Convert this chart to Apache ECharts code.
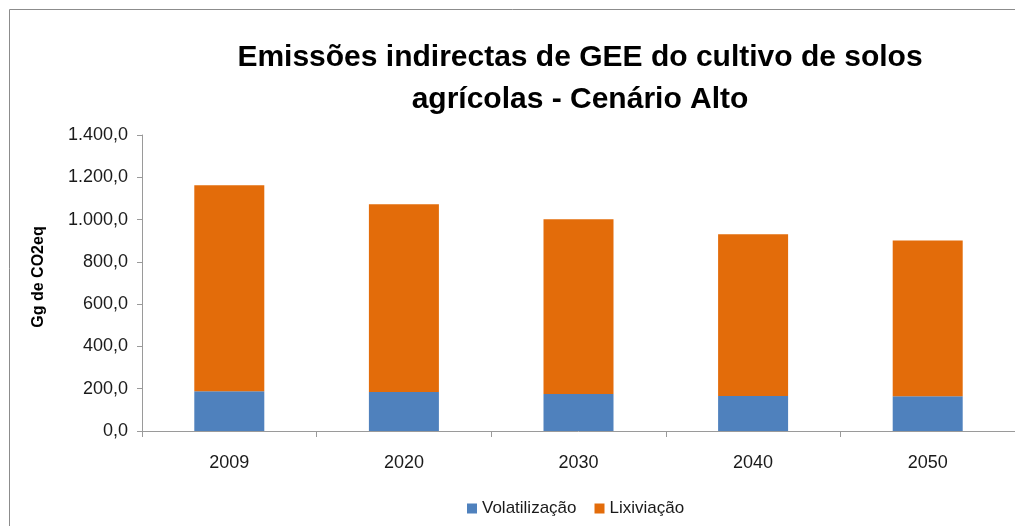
<!DOCTYPE html>
<html>
<head>
<meta charset="utf-8">
<script src="https://cdn.jsdelivr.net/npm/echarts@6/dist/echarts.min.js"></script>
<style>
  html, body { margin: 0; padding: 0; background: #fff; }
  #chart { width: 1015px; height: 526px; }
</style>
</head>
<body>
<div id="chart"></div>
<script>
  'use strict'

  var categories = ['2009', '2020', '2030', '2040', '2050'];
  var volatilizacao = [188, 184, 175, 165, 164];
  var lixiviacao = [974, 888, 826, 765, 737];
  var yTicks = [0, 200, 400, 600, 800, 1000, 1200, 1400];

  // 1.400,0 style
  var fmtPt = function (v) {
    var parts = v.toFixed(1).split('.');
    parts[0] = parts[0].replace(/\B(?=(\d{3})+(?!\d))/g, '.');
    return parts.join(',');
  };

  var font = '"Liberation Sans", Arial, sans-serif';
  var axisGray = '#9a9a9a';

  var chart = echarts.init(document.getElementById('chart'));
  var option = {
    backgroundColor: '#fff',
    animation: false,
    textStyle: { fontFamily: font },
    title: {
      text: 'Emissões indirectas de GEE do cultivo de solos\nagrícolas - Cenário Alto',
      left: 575,
      textAlign: 'center',
      top: 32,
      textStyle: {
        fontFamily: font,
        fontSize: 30,
        fontWeight: 'bold',
        color: '#000',
        lineHeight: 42
      }
    },
    graphic: [{
      type: 'polyline',
      shape: { points: [[9.5, 530], [9.5, 9.5], [1020, 9.5]] },
      style: { stroke: '#8c8c8c', lineWidth: 1, fill: null },
      silent: true
    }],
    legend: {
      bottom: 4,
      left: 462,
      itemWidth: 10,
      itemHeight: 10,
      itemGap: 18,
      icon: 'rect',
      textStyle: { fontFamily: font, fontSize: 17, color: '#1a1a1a' },
      data: ['Volatilização', 'Lixiviação']
    },
    grid: {
      left: 142,
      right: 0,
      top: 135,
      bottom: 95,
      containLabel: false
    },
    xAxis: {
      type: 'category',
      data: categories,
      axisLine: { lineStyle: { color: axisGray, width: 1 } },
      axisTick: { show: true, alignWithLabel: false, length: 6, lineStyle: { color: axisGray } },
      axisLabel: { fontFamily: font, fontSize: 18, color: '#1a1a1a', margin: 23 }
    },
    yAxis: {
      type: 'value',
      min: yTicks[0],
      max: yTicks[yTicks.length - 1],
      interval: 200,
      name: 'Gg de CO2eq',
      nameLocation: 'middle',
      nameRotate: 90,
      nameGap: 95,
      nameTextStyle: { fontFamily: font, fontSize: 16, fontWeight: 'bold', color: '#000', padding: [0, 0, 0, 12] },
      axisLine: { show: true, lineStyle: { color: axisGray, width: 1 } },
      axisTick: { show: true, length: 5, lineStyle: { color: axisGray } },
      splitLine: { show: false },
      axisLabel: {
        fontFamily: font,
        fontSize: 18,
        color: '#1a1a1a',
        margin: 14,
        formatter: fmtPt
      }
    },
    series: [
      {
        name: 'Volatilização',
        type: 'bar',
        stack: 'total',
        barWidth: 70,
        data: volatilizacao,
        itemStyle: { color: '#4f81bd' }
      },
      {
        name: 'Lixiviação',
        type: 'bar',
        stack: 'total',
        barWidth: 70,
        data: lixiviacao,
        itemStyle: { color: '#e36c0a' }
      }
    ]
  };
  chart.setOption(option);
</script>
</body>
</html>
